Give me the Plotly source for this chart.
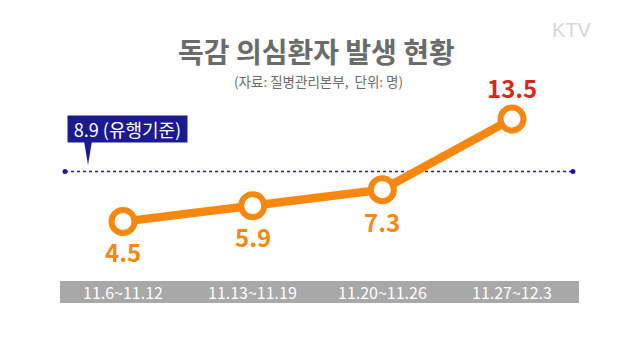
import plotly.graph_objects as go

categories = ["11.6~11.12", "11.13~11.19", "11.20~11.26", "11.27~12.3"]
values = [4.5, 5.9, 7.3, 13.5]
threshold = 8.9
threshold_label = "8.9 (유행기준)"
title = "독감 의심환자 발생 현황"
subtitle = "(자료: 질병관리본부,  단위: 명)"

W, H = 640, 360
OFF = 8  # page body margin
ORANGE = "#F7870E"
NAVY = "#1B1B8F"
FONT = "Noto Sans CJK KR"

x_idx = list(range(len(categories)))

def px(x):
    return (x - OFF) / W

def py(y):
    return 1 - (y - OFF) / H

fig = go.Figure()

# threshold dotted line
fig.add_trace(go.Scatter(
    x=[-0.447, 3.47], y=[threshold, threshold], mode="lines+markers",
    line=dict(color=NAVY, width=1.5, dash="dot"),
    marker=dict(size=5, color=NAVY), hoverinfo="skip", showlegend=False))

# main series
fig.add_trace(go.Scatter(
    x=x_idx, y=values, mode="lines+markers",
    line=dict(color=ORANGE, width=8.5),
    marker=dict(symbol="circle", size=23, color="white",
                line=dict(color=ORANGE, width=6)),
    showlegend=False, hoverinfo="skip"))

shapes = [
    dict(type="rect", xref="paper", yref="paper",
         x0=px(60), x1=px(579), y0=py(303), y1=py(281),
         fillcolor="#A8A8A8", line=dict(width=0), layer="below"),
    dict(type="path", xref="paper", yref="paper",
         path=f"M {px(84)} {py(141)} L {px(92)} {py(141)} L {px(88)} {py(165)} Z",
         fillcolor=NAVY, line=dict(width=0)),
    dict(type="line", xref="paper", yref="paper", x0=px(1), x1=px(1), y0=0, y1=1.1,
         line=dict(color="#9a9a9a", width=2)),
    dict(type="line", xref="paper", yref="paper", x0=-0.1, x1=1, y0=py(0.5), y1=py(0.5),
         line=dict(color="#bdbdbd", width=1)),
]

def pa(text, x, y, size, color, family=FONT, **kw):
    return dict(text=text, x=px(x), y=py(y), xref="paper", yref="paper",
                xanchor="center", yanchor="middle", showarrow=False,
                font=dict(family=family, size=size, color=color), **kw)

annotations = [
    pa(f"<b>{title}</b>", 316, 51, 28, "#6b6b6b"),
    pa(subtitle, 318, 81, 13.5, "#6b6b6b"),
    pa("KTV", 572, 30, 20, "#d6d6d6", family="Liberation Sans"),
    pa(threshold_label, 127.5, 129, 18, "white", bgcolor=NAVY, borderpad=0,
       width=119, height=26),
]

label_offsets = [-30, -31, -32, 31]
for i, (c, v) in enumerate(zip(categories, values)):
    annotations.append(dict(
        text=f"<b>{v}</b>", x=i, y=v, xref="x", yref="y", showarrow=False,
        xanchor="center", yanchor="middle", yshift=label_offsets[i],
        font=dict(family=FONT, size=24,
                  color="#D42A1C" if i == len(values) - 1 else ORANGE)))
    annotations.append(dict(
        text=c, x=i, y=py(292), xref="x", yref="paper", showarrow=False,
        xanchor="center", yanchor="middle",
        font=dict(family=FONT, size=16, color="white")))

fig.update_layout(
    width=W, height=H,
    margin=dict(l=0, r=0, t=0, b=0),
    paper_bgcolor="white", plot_bgcolor="white",
    xaxis=dict(range=[-0.887, 4.049], visible=False, fixedrange=True),
    yaxis=dict(range=[-8.33, 23.22], visible=False, fixedrange=True),
    shapes=shapes, annotations=annotations,
)

fig.write_html("out.html")
